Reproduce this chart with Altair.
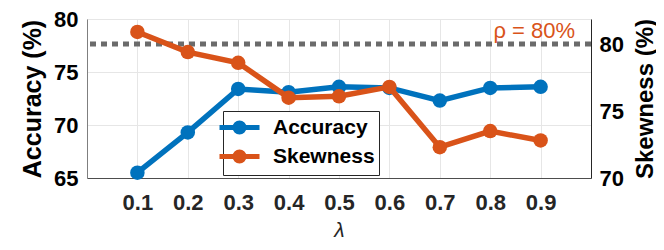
import altair as alt
import pandas as pd

# ---- data ----
lam = [0.1, 0.2, 0.3, 0.4, 0.5, 0.6, 0.7, 0.8, 0.9]
accuracy = [65.5, 69.3, 73.4, 73.1, 73.6, 73.5, 72.3, 73.5, 73.6]
skewness = [80.9, 79.4, 78.6, 76.0, 76.1, 76.8, 72.3, 73.5, 72.8]
series_names = ["Accuracy", "Skewness"]
series_colors = ["#0072BD", "#D95319"]
x_ticks = [0.1, 0.2, 0.3, 0.4, 0.5, 0.6, 0.7, 0.8, 0.9]
acc_ticks = [65, 70, 75, 80]
skew_ticks = [70, 75, 80]
threshold = [80]
threshold_label = "ρ = 80%"

acc_df = pd.DataFrame({"lam": lam, "value": accuracy, "series": series_names[0]})
skew_df = pd.DataFrame({"lam": lam, "value": skewness, "series": series_names[1]})
thr_df = pd.DataFrame({"lam": [1.0], "value": threshold, "label": [threshold_label]})

FONT = "Liberation Sans"
W, H = 504, 159

x_enc = alt.X(
    "lam:Q",
    scale=alt.Scale(domain=[0, 1], nice=False, zero=False),
    axis=alt.Axis(
        values=x_ticks, format=".1f", title="λ",
        labelFont=FONT, labelFontSize=22, labelFontWeight="bold", labelColor="#262626",
        labelPadding=14, tickSize=0, ticks=False,
        grid=True, gridColor="#e6e6e6", gridWidth=1,
        domainColor="#4d4d4d", domainWidth=1,
        titleFont=FONT, titleFontSize=21, titleFontWeight="normal", titleFontStyle="italic",
        titleColor="#262626", titleX=W / 2, titleY=58, titleBaseline="alphabetic", titleAlign="center",
    ),
)

legend_symbol = "M-2,0L2,0M0.45,0A0.45,0.45,0,1,1,-0.45,0A0.45,0.45,0,1,1,0.45,0Z"

color_enc = alt.Color(
    "series:N",
    scale=alt.Scale(domain=series_names, range=series_colors),
    legend=alt.Legend(
        title=None, orient="none", legendX=136, legendY=92,
        symbolType=legend_symbol, symbolSize=400, symbolStrokeWidth=5,
        labelFont=FONT, labelFontSize=21, labelFontWeight="bold", labelColor="black",
        labelOffset=21, strokeColor="#262626", fillColor="white", padding=4, rowPadding=0,
    ),
)

acc_y = alt.Y(
    "value:Q",
    scale=alt.Scale(domain=[65, 80], nice=False, zero=False),
    axis=alt.Axis(
        orient="left", values=acc_ticks, title="Accuracy (%)",
        labelFont=FONT, labelFontSize=22, labelFontWeight="bold", labelColor="black",
        labelPadding=9, tickSize=0, ticks=False,
        grid=True, gridColor="#e6e6e6", gridWidth=1,
        domainColor="#7f7f7f",
        titleFont=FONT, titleFontSize=25, titleFontWeight="bold", titleColor="black",
        titleAngle=270, titleX=-55, titleY=H / 2, titleAlign="center", titleBaseline="middle",
    ),
)

skew_y = alt.Y(
    "value:Q",
    scale=alt.Scale(domain=[70, 81.87], nice=False, zero=False),
    axis=alt.Axis(
        orient="right", values=skew_ticks, title="Skewness (%)",
        labelFont=FONT, labelFontSize=22, labelFontWeight="bold", labelColor="black",
        labelPadding=8, tickSize=0, ticks=False, grid=False,
        domainColor="#262626",
        titleFont=FONT, titleFontSize=24, titleFontWeight="bold", titleColor="black",
        titleAngle=270, titleX=54, titleY=H / 2, titleAlign="center", titleBaseline="middle",
    ),
)

acc_base = alt.Chart(acc_df).encode(x=x_enc, y=acc_y, color=color_enc)
left = alt.layer(
    acc_base.mark_line(strokeWidth=5.5),
    acc_base.mark_point(filled=True, size=210, opacity=1),
)

skew_base = alt.Chart(skew_df).encode(x=x_enc, y=skew_y, color=color_enc)
rule = alt.Chart(thr_df).mark_rule(
    color="#6b6b6b", strokeWidth=5, strokeDash=[6, 5]
).encode(y=skew_y)
label = alt.Chart(thr_df).mark_text(
    font=FONT, fontSize=22, color="#D95319", align="right", baseline="alphabetic", dx=-16, dy=-6
).encode(x=x_enc, y=skew_y, text="label:N")
right = alt.layer(
    rule,
    skew_base.mark_line(strokeWidth=5.5),
    skew_base.mark_point(filled=True, size=210, opacity=1),
    label,
)

chart = (
    alt.layer(left, right)
    .resolve_scale(y="independent")
    .properties(
        width=W, height=H,
        autosize=alt.AutoSizeParams(type="none"),
        padding={"left": 79, "top": 11, "right": 65, "bottom": 64},
    )
    .configure_view(stroke="#7f7f7f", strokeWidth=1)
    .configure(background="white")
)

chart.save("out.html", embed_options={"renderer": "svg", "actions": False})
